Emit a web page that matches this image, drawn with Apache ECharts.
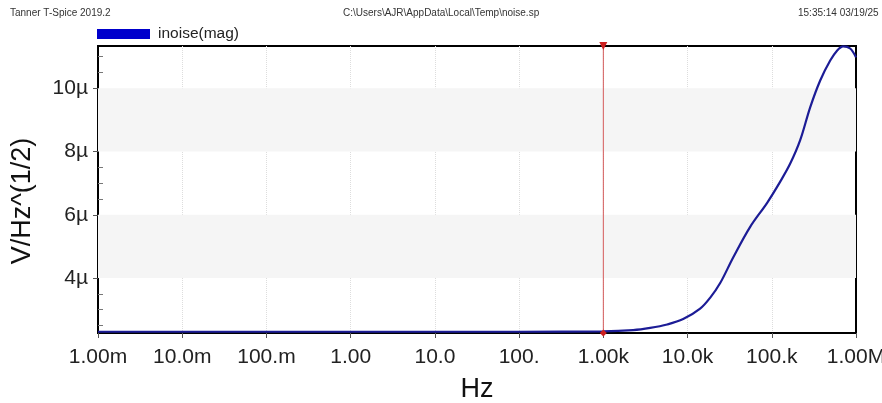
<!DOCTYPE html>
<html>
<head>
<meta charset="utf-8">
<script src="https://cdn.jsdelivr.net/npm/echarts@6/dist/echarts.min.js"></script>
<style>
  html, body { margin: 0; padding: 0; background: #fff; }
  #chart { width: 882px; height: 403px; }
</style>
</head>
<body>
<div id="chart"></div>
<script>
// frequency (Hz) and inoise magnitude (uV/Hz^(1/2))
const freqs = [1e-3, 1e-2, 1e-1, 1, 10, 100, 1000, 2260, 3600, 5730, 8870, 14100, 18600,
  24400, 34800, 55400, 88100, 126000, 165600, 217400, 285700, 375800, 494000,
  598000, 705000, 853000, 1000000];
const inoise = [2.30, 2.30, 2.30, 2.30, 2.30, 2.30, 2.31, 2.35, 2.42, 2.53, 2.70, 3.03, 3.38,
  3.84, 4.65, 5.62, 6.38, 7.05, 7.62, 8.36, 9.40, 10.25, 10.88,
  11.20, 11.33, 11.26, 10.98];

const xTickLabels = ['1.00m', '10.0m', '100.m', '1.00', '10.0', '100.', '1.00k', '10.0k', '100.k', '1.00M'];
const yTicks = [4, 6, 8, 10];
const yMinorTicks = [2.5, 3, 3.5, 4.5, 5, 5.5, 6.5, 7, 7.5, 8.5, 9, 9.5, 10.5, 11];
const cursorFreq = 1000;

const font = 'Liberation Sans';
const yMin = 2.26
const yMax = 11.34

let chart = echarts.init(document.getElementById('chart'));

let option = {
  animation: false,
  backgroundColor: '#fff',
  textStyle: { fontFamily: font },
  graphic: [
    { type: 'text', left: 10, top: 8, style: { text: 'Tanner T-Spice 2019.2', fontSize: 10, fill: '#333', fontFamily: font } },
    { type: 'text', left: 343, top: 8, style: { text: 'C:\\Users\\AJR\\AppData\\Local\\Temp\\noise.sp', fontSize: 10, fill: '#333', fontFamily: font } },
    { type: 'text', left: 798, top: 8, style: { text: '15:35:14 03/19/25', fontSize: 10, fill: '#333', fontFamily: font } },
    // y axis title, placed by hand (sits a bit below plot centre in the original)
    {
      type: 'text', x: 23, y: 201, rotation: Math.PI / 2,
      style: { text: 'V/Hz^(1/2)', fontSize: 27, fill: '#111', fontFamily: font, align: 'center', verticalAlign: 'middle' }
    }
  ],
  legend: {
    left: 92,
    top: 21,
    icon: 'rect',
    itemWidth: 53,
    itemHeight: 10,
    itemGap: 8,
    selectedMode: false,
    textStyle: { fontSize: 15.5, color: '#222', fontFamily: font, padding: [0, 0, 0, 3] },
    data: ['inoise(mag)']
  },
  grid: {
    left: 98,
    right: 26,
    top: 46,
    bottom: 70,
    outerBoundsMode: 'none',
    containLabel: false,
    show: true,
    borderColor: '#000',
    borderWidth: 2,
    backgroundColor: '#fff'
  },
  xAxis: {
    type: 'log',
    logBase: 10,
    min: 1e-3,
    max: 1e6,
    name: 'Hz',
    nameLocation: 'middle',
    nameGap: 43,
    nameTextStyle: { fontSize: 27, color: '#111', fontFamily: font },
    axisLine: { show: true, lineStyle: { color: '#000', width: 2 } },
    axisTick: { show: true, length: 5, lineStyle: { color: '#555' } },
    minorTick: { show: false },
    axisLabel: {
      fontSize: 21,
      color: '#222',
      margin: 14,
      fontFamily: font,
      hideOverlap: false,
      formatter: function (v) {
        let i = Math.round(Math.log10(v)) + 3
        return xTickLabels[i] || ''
      }
    },
    splitLine: { show: true, lineStyle: { color: '#ddd', type: 'dotted' } }
  },
  yAxis: [
    {
      type: 'value',
      min: yMin,
      max: yMax,
      axisLine: { show: true, lineStyle: { color: '#000', width: 2 } },
      axisTick: { show: true, length: 5, customValues: yTicks, lineStyle: { color: '#555' } },
      axisLabel: {
        fontSize: 21,
        color: '#222',
        margin: 10,
        padding: [12, 0, 0, 0],
        fontFamily: font,
        customValues: yTicks,
        formatter: '{value}µ'
      },
      splitLine: { show: false }
    },
    {
      // minor ticks, drawn inside the frame
      type: 'value',
      min: yMin,
      max: yMax,
      position: 'left',
      axisLine: { show: false },
      axisTick: { show: true, inside: true, length: 5, customValues: yMinorTicks, lineStyle: { color: '#777' } },
      axisLabel: { show: false },
      splitLine: { show: false }
    },
    {
      // right edge of the frame, kept above the dotted grid lines
      type: 'value',
      min: yMin,
      max: yMax,
      position: 'right',
      axisLine: { show: true, lineStyle: { color: '#000', width: 2 } },
      axisTick: { show: false },
      axisLabel: { show: false },
      splitLine: { show: false }
    }
  ],
  series: [
    {
      name: 'inoise(mag)',
      type: 'line',
      smooth: 0.35,
      symbol: 'none',
      yAxisIndex: 0,
      z: 3,
      itemStyle: { color: '#0000cc' },
      lineStyle: { color: '#1c1c96', width: 2.2 },
      data: freqs.map((f, i) => [f, inoise[i]]),
      markArea: {
        silent: true,
        itemStyle: { color: '#f5f5f5' },
        data: [
          [{ yAxis: 4 }, { yAxis: 6 }],
          [{ yAxis: 8 }, { yAxis: 10 }]
        ]
      }
    },
    {
      // cursor at 1.00k, spanning the whole y range
      name: 'cursor',
      type: 'line',
      yAxisIndex: 0,
      z: 4,
      clip: false,
      silent: true,
      lineStyle: { color: '#d45a5a', width: 1 },
      itemStyle: { color: '#cc2020' },
      data: [
        { value: [cursorFreq, yMin], symbol: 'diamond', symbolSize: 7 },
        { value: [cursorFreq, yMax], symbol: 'triangle', symbolSize: 8, symbolRotate: 180 }
      ]
    }
  ]
}

chart.setOption(option)
</script>
</body>
</html>
